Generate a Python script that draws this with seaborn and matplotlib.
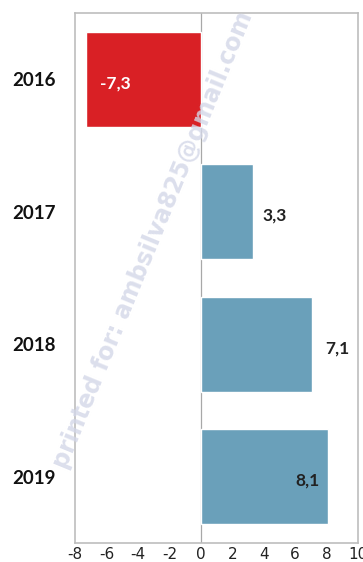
import matplotlib
matplotlib.use("Agg")
import matplotlib.pyplot as plt
import seaborn as sns
import pandas as pd

# Annual change per year
years = ["2016", "2017", "2018", "2019"]
values = [-7.3, 3.3, 7.1, 8.1]
value_labels = ["-7,3", "3,3", "7,1", "8,1"]
bar_colors = ["#D92025", "#6AA0BA", "#6AA0BA", "#6AA0BA"]
x_ticks = [-8, -6, -4, -2, 0, 2, 4, 6, 8, 10]

df = pd.DataFrame({"year": years, "value": values})

sns.set_theme(style="white")
plt.rcParams["font.family"] = ["Lato", "DejaVu Sans"]

fig = plt.figure(figsize=(3.63, 5.62), dpi=100)
ax = fig.add_axes([0.2066, 0.0338, 0.7796, 0.9431])

sns.barplot(data=df, x="value", y="year", hue="year", palette=bar_colors,
            order=years, width=0.72, orient="h", legend=False,
            saturation=1, ax=ax)

ax.set_xlim(-8, 10)
ax.set_ylim(3.5, -0.5)
ax.set_xticks(x_ticks)
ax.set_xticklabels([str(t) for t in x_ticks], fontsize=11, color="#222222",
                   family=["DejaVu Sans"])
ax.tick_params(axis="x", length=0, pad=3)
ax.tick_params(axis="y", length=0, pad=14)
for lbl in ax.get_yticklabels():
    lbl.set_fontsize(13.5)
    lbl.set_fontweight("bold")
    lbl.set_color("#111111")
ax.set_xlabel("")
ax.set_ylabel("")

for s in ax.spines.values():
    s.set_color("#bdbdbd")
    s.set_linewidth(1.2)
ax.axvline(0, color="#a8a8a8", linewidth=0.9, zorder=0.5)

# Value labels: (offset from bar end, alignment, colour)
placement = [(0.9, "left", "white"), (0.6, "left", "#222222"),
             (0.8, "left", "#222222"), (-0.55, "right", "#222222")]
for i, (v, txt) in enumerate(zip(values, value_labels)):
    off, ha, col = placement[i]
    ax.text(v + off, i + 0.03, txt, ha=ha, va="center", fontsize=12.5,
            fontweight="bold", color=col)

# Diagonal watermark
fig.text(0.4215, 0.573, "printed for: ambsilva825@gmail.com", rotation=67.7,
         rotation_mode="anchor", ha="center", va="center", fontsize=17,
         fontweight="bold", color="#d3d7e8", alpha=0.8,
         family=["DejaVu Sans"])

fig.savefig("out.png", dpi=100, facecolor="white")
